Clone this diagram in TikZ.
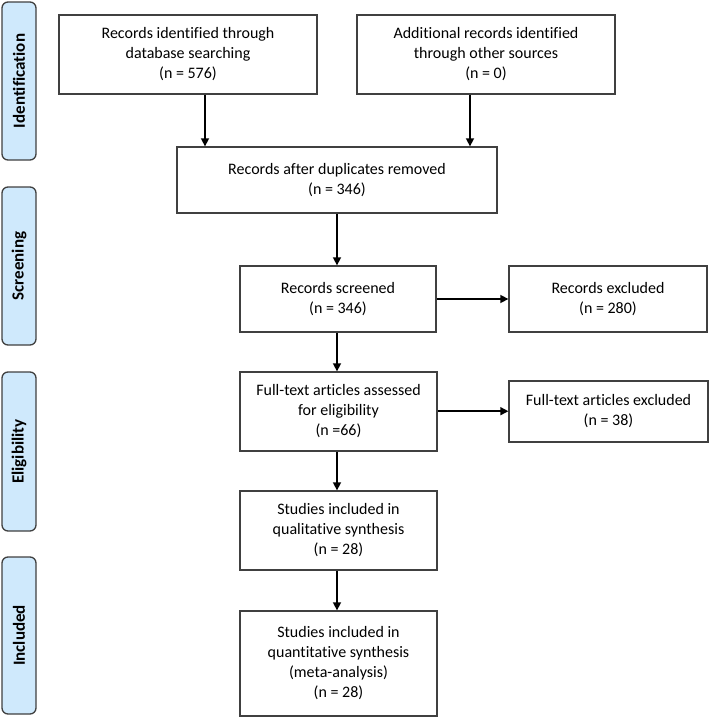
\documentclass[tikz,border=0pt]{standalone}
\usepackage{fontspec}
\setmainfont{Carlito}[RawFeature=-liga]
\usetikzlibrary{arrows.meta}
\definecolor{boxline}{RGB}{64,64,64}
\definecolor{sidefill}{RGB}{207,233,252}
\tikzset{
  box/.style={draw=boxline, line width=1.3pt, align=center, inner sep=0pt,
    font=\fontsize{16}{20}\selectfont, text=black},
  side/.style={draw=boxline, fill=sidefill, line width=1.3pt, rounded corners=6pt,
    minimum width=34pt, inner sep=0pt},
  sidelabel/.style={rotate=90, font=\fontsize{17}{20}\selectfont\bfseries},
  arr/.style={line width=1.5pt, -{Triangle[length=8pt,width=8pt]}}
}
\begin{document}
\begin{tikzpicture}[x=1pt,y=-1pt]
\useasboundingbox (0,0) rectangle (709,718);
% side phase bars
\node[side, minimum height=158pt] (sid) at (19,81) {};
\node[sidelabel] (lid) at (sid.center) {Identification};
\node[side, minimum height=158pt] (sscr) at (19,266) {};
\node[sidelabel] (lscr) at (sscr.center) {Screening};
\node[side, minimum height=159pt] (selg) at (19,451.5) {};
\node[sidelabel] (lelg) at (selg.center) {Eligibility};
\node[side, minimum height=157pt] (sinc) at (19,635.5) {};
\node[sidelabel] (linc) at (sinc.center) {Included};
% boxes
\node[box, minimum width=258pt, minimum height=79pt] (b1) at (188,54.5)
  {Records identified through\\database searching\\(n = 576)};
\node[box, minimum width=258pt, minimum height=79pt] (b2) at (486,54.5)
  {Additional records identified\\through other sources\\(n = 0)};
\node[box, minimum width=320pt, minimum height=66pt] (b3) at (337,180)
  {Records after duplicates removed\\(n = 346)};
\node[box, minimum width=196pt, minimum height=66pt] (b4) at (338,299)
  {Records screened\\(n = 346)};
\node[box, minimum width=198pt, minimum height=66pt] (b5) at (608,299)
  {Records excluded\\(n = 280)};
\node[box, minimum width=197pt, minimum height=79pt] (b6) at (338.5,411.5)
  {Full-text articles assessed\\for eligibility\\(n =66)};
\node[box, minimum width=199pt, minimum height=61pt] (b7) at (608.5,411.5)
  {Full-text articles excluded\\(n = 38)};
\node[box, minimum width=197pt, minimum height=79pt] (b8) at (338.5,530.5)
  {Studies included in\\qualitative synthesis\\(n = 28)};
\node[box, minimum width=197pt, minimum height=105pt] (b9) at (338.5,663.5)
  {Studies included in\\quantitative synthesis\\(meta-analysis)\\(n = 28)};
% connector anchors
\coordinate (c1) at (205,0);
\coordinate (c2) at (470,0);
\coordinate (cm) at (337,0);
% connectors
\draw[arr] (b1.south -| c1) -- (b3.north -| c1);
\draw[arr] (b2.south -| c2) -- (b3.north -| c2);
\draw[arr] (b3.south -| cm) -- (b4.north -| cm);
\draw[arr] (b4.east) -- (b5.west);
\draw[arr] (b4.south -| cm) -- (b6.north -| cm);
\draw[arr] ([yshift=0.3pt]b6.east) -- ([yshift=0.3pt]b7.west);
\draw[arr] (b6.south -| cm) -- (b8.north -| cm);
\draw[arr] (b8.south -| cm) -- (b9.north -| cm);
\end{tikzpicture}
\end{document}
